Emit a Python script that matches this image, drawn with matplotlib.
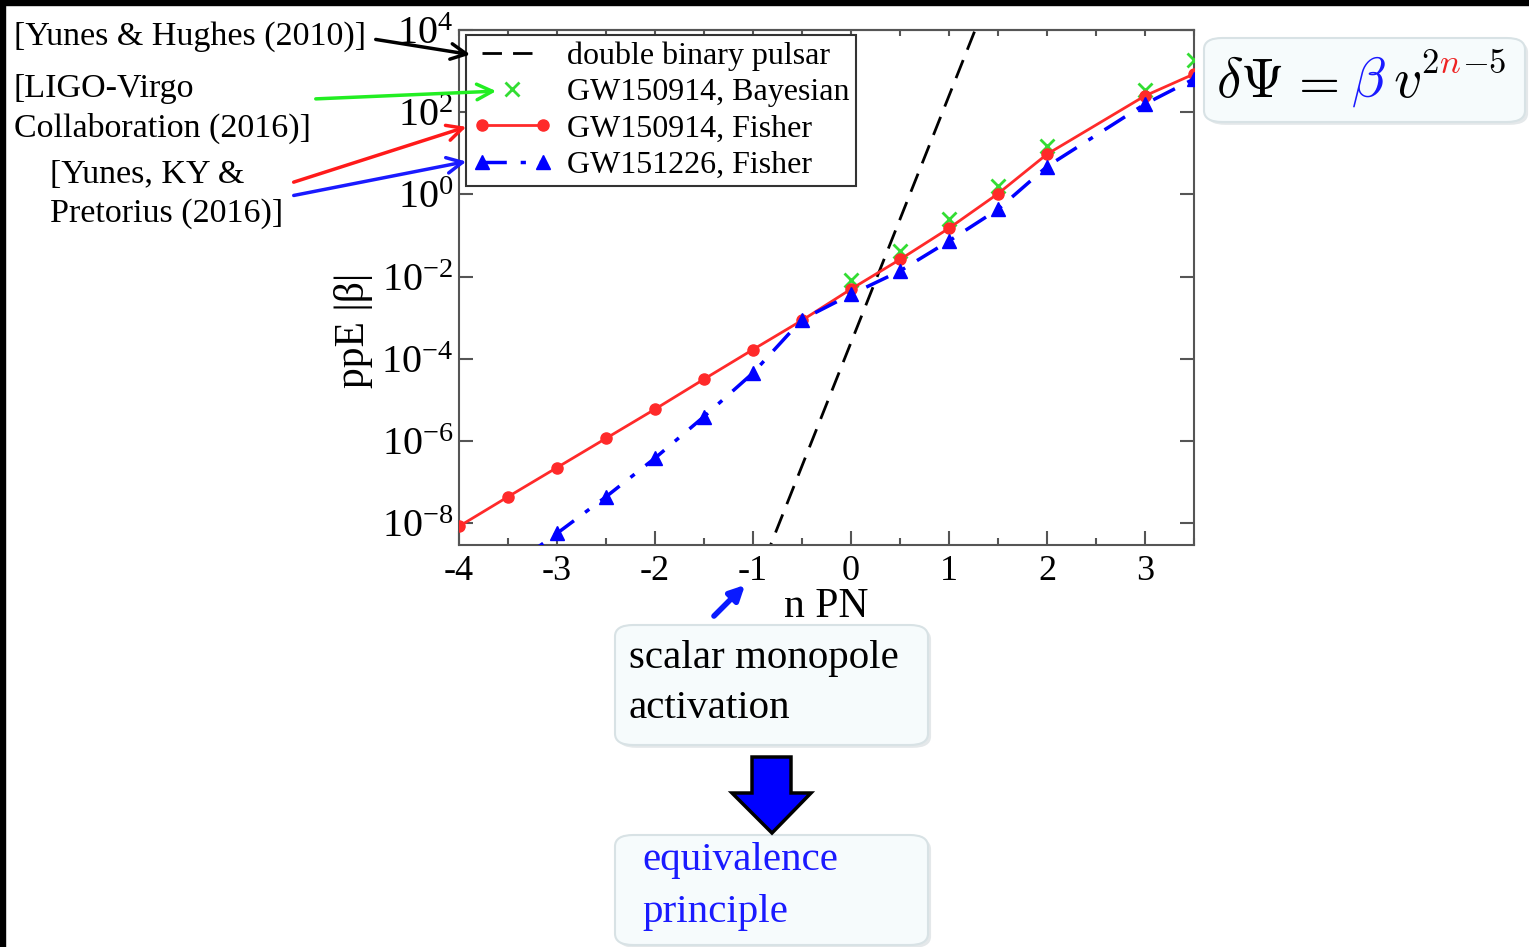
import numpy as np
import matplotlib.pyplot as plt
from matplotlib.patches import FancyBboxPatch, Polygon, Rectangle, FancyArrowPatch
from matplotlib.legend_handler import HandlerLine2D
from matplotlib.ticker import FixedLocator, FuncFormatter, MultipleLocator

plt.rcParams['font.family'] = ['Liberation Serif', 'DejaVu Serif']
plt.rcParams['mathtext.fontset'] = 'stix'
plt.rcParams['axes.unicode_minus'] = False

# values, as log10 |beta|
n_150914_fisher = [-4, -3.5, -3, -2.5, -2, -1.5, -1, -0.5, 0, 0.5, 1, 1.5, 2, 3, 3.5]
logb_150914_fisher = [-8.07, -7.35, -6.64, -5.93, -5.22, -4.49, -3.77, -3.06, -2.30,
                      -1.58, -0.82, 0.02, 0.98, 2.40, 2.93]

n_151226_fisher = [-3.5, -3, -2.5, -2, -1.5, -1, -0.5, 0, 0.5, 1, 1.5, 2, 3, 3.5]
logb_151226_fisher = [-9.1, -8.24, -7.35, -6.41, -5.40, -4.34, -3.04, -2.43,
                      -1.86, -1.13, -0.36, 0.68, 2.20, 2.81]

n_150914_bayes = [0, 0.5, 1, 1.5, 2, 3, 3.5]
logb_150914_bayes = [-2.09, -1.38, -0.60, 0.21, 1.19, 2.53, 3.26]

n_pulsar = [-1.0, 1.5]
logb_pulsar = [-9.6, 5.4]

xticks = [-4, -3, -2, -1, 0, 1, 2, 3]
yticks_exp = [-8, -6, -4, -2, 0, 2, 4]

W, H = 1529, 947
fig = plt.figure(figsize=(W / 100, H / 100), dpi=100)


def fp(x, y):
    # slide pixel (top-left origin) -> figure fraction
    return x / W, 1 - y / H


ax = fig.add_axes([459 / W, 1 - 545 / H, (1194 - 459) / W, (545 - 30) / H])

ax.semilogy(n_pulsar, 10 ** np.array(logb_pulsar), color='black', ls='--',
            dashes=(7, 4), lw=2, label='double binary pulsar', zorder=2)
green, = ax.semilogy(n_150914_bayes, 10 ** np.array(logb_150914_bayes), ls='none',
                     marker='x', ms=10, mew=2, color='#33dd33',
                     label='GW150914, Bayesian', zorder=3)
ax.semilogy(n_150914_fisher, 10 ** np.array(logb_150914_fisher), color='#ff2a2a',
            lw=2, marker='o', ms=8, label='GW150914, Fisher', zorder=4)
ax.semilogy(n_151226_fisher, 10 ** np.array(logb_151226_fisher), color='#0000ff',
            lw=2.5, dashes=(7, 4, 1.5, 4), marker='^', ms=10,
            label='GW151226, Fisher', zorder=5)

ax.set_xlim(-4, 3.5)
ax.set_ylim(3e-9, 1e4)

ax.xaxis.set_major_locator(FixedLocator(xticks))
ax.xaxis.set_minor_locator(MultipleLocator(0.5))
ax.xaxis.set_major_formatter(FuncFormatter(lambda v, p: '%d' % v))
ax.yaxis.set_major_locator(FixedLocator([10.0 ** e for e in yticks_exp]))
ax.yaxis.set_minor_locator(FixedLocator([]))
ax.yaxis.set_major_formatter(FuncFormatter(
    lambda v, p: r'$\mathregular{10^{%d}}$' % round(np.log10(v))))

ax.tick_params(axis='x', which='major', direction='in', length=10, width=1.5,
               color='#555555', labelsize=26, pad=7, top=False)
ax.tick_params(axis='x', which='minor', direction='in', length=5, width=1.5,
               color='#555555', top=False)
ax.tick_params(axis='y', which='major', direction='in', length=10, width=1.5,
               color='#555555', labelsize=29, pad=4, right=True)
sec = ax.secondary_xaxis('top')
sec.set_xticks(np.arange(-4, 3.6, 0.5))
sec.tick_params(direction='in', length=4, width=1.5, color='#555555', labeltop=False)
sec.spines['top'].set_color('#555555')
sec.spines['top'].set_linewidth(1.5)
for s in ax.spines.values():
    s.set_color('#555555')
    s.set_linewidth(1.5)

ax.set_xlabel('n PN', fontsize=30, labelpad=0)
ax.set_ylabel('ppE |β|', fontsize=30)
ax.yaxis.set_label_coords(-0.117, 0.417)

leg = ax.legend(loc='upper left', bbox_to_anchor=(466 / W, 1 - 35 / H),
                bbox_transform=fig.transFigure, fontsize=23, frameon=True,
                fancybox=False, framealpha=1, edgecolor='#333333',
                borderpad=0.2, labelspacing=0.22, handlelength=2.5,
                handletextpad=0.45, borderaxespad=0, numpoints=2,
                handler_map={green: HandlerLine2D(numpoints=1)})
leg.get_frame().set_linewidth(1.5)

# slide frame
fig.patches.append(Rectangle((0, 1 - 5 / H), 1, 5 / H, transform=fig.transFigure,
                             color='black', zorder=0))
fig.patches.append(Rectangle((0, 0), 5 / W, 1, transform=fig.transFigure,
                             color='black', zorder=0))

# citation labels
fs_cite = 24.5
fig.text(*fp(14, 45), '[Yunes & Hughes (2010)]', fontsize=fs_cite, va='baseline')
fig.text(*fp(14, 97), '[LIGO-Virgo', fontsize=fs_cite, va='baseline')
fig.text(*fp(14, 137), 'Collaboration (2016)]', fontsize=fs_cite, va='baseline')
fig.text(*fp(50, 183), '[Yunes, KY &', fontsize=fs_cite, va='baseline')
fig.text(*fp(50, 222), 'Pretorius (2016)]', fontsize=fs_cite, va='baseline')

arrows = [((373, 39), (473, 55), 'black'),
          ((313, 99), (499, 91), '#22ee22'),
          ((291, 183), (469, 126), '#ff1a1a'),
          ((291, 196), (469, 161), '#1a1aff')]
for (x0, y0), (x1, y1), c in arrows:
    fig.patches.append(FancyArrowPatch(fp(x0, y0), fp(x1, y1), transform=fig.transFigure,
                                       arrowstyle='->', mutation_scale=28, lw=2.5,
                                       color=c, zorder=10))

# small arrow pointing at n = -1
fig.patches.append(FancyArrowPatch(fp(712, 618), fp(747, 583), transform=fig.transFigure,
                                   arrowstyle='-|>', mutation_scale=22, lw=4,
                                   color='#0a1aff', zorder=10))


def rbox(x0, y0, x1, y1):
    (fx0, fy1), (fx1, fy0) = fp(x0, y0), fp(x1, y1)
    fig.patches.append(FancyBboxPatch((fx0 + 0.002, fy0 - 0.003), fx1 - fx0, fy1 - fy0,
                                      boxstyle='round,pad=0,rounding_size=0.012',
                                      transform=fig.transFigure, fc='#e4e8ea',
                                      ec='none', zorder=1))
    fig.patches.append(FancyBboxPatch((fx0, fy0), fx1 - fx0, fy1 - fy0,
                                      boxstyle='round,pad=0,rounding_size=0.012',
                                      transform=fig.transFigure, fc='#f6fbfc',
                                      ec='#d8e2e5', lw=1.5, zorder=1))


rbox(1204, 38, 1525, 122)
rbox(615, 625, 928, 745)
rbox(615, 835, 928, 945)

# formula  dPsi = beta v^(2n-5)
fsf, fss = 40, 25
fig.text(*fp(1216, 97), r'$\delta\Psi$', fontsize=fsf, va='baseline', math_fontfamily='cm')
fig.text(*fp(1289, 97), r'$=$', fontsize=38, va='baseline', math_fontfamily='cm')
fig.text(*fp(1351, 97), r'$\beta$', fontsize=fsf, va='baseline', color='#1a1aff',
         math_fontfamily='cm')
fig.text(*fp(1393, 97), r'$v$', fontsize=fsf, va='baseline', math_fontfamily='cm')
fig.text(*fp(1421, 73), r'$2$', fontsize=fss, va='baseline', math_fontfamily='cm')
fig.text(*fp(1439, 73), r'$n$', fontsize=fss, va='baseline', color='#ee2222',
         math_fontfamily='cm')
fig.text(*fp(1462, 73), r'$-5$', fontsize=fss, va='baseline', math_fontfamily='cm')

fs_box = 29.5
fig.text(*fp(629, 668), 'scalar monopole', fontsize=fs_box, va='baseline')
fig.text(*fp(629, 718), 'activation', fontsize=fs_box, va='baseline')
fig.text(*fp(642, 870), 'equivalence', fontsize=fs_box, va='baseline', color='#1a1aff')
fig.text(*fp(642, 922), 'principle', fontsize=fs_box, va='baseline', color='#1a1aff')

# block arrow between the boxes
arrow_px = [(752, 757), (791, 757), (791, 793), (811, 793), (772, 833),
            (732, 793), (752, 793)]
fig.patches.append(Polygon([fp(x, y) for x, y in arrow_px], closed=True,
                           transform=fig.transFigure, fc='#0000ff', ec='black',
                           lw=2.5, zorder=5))

fig.savefig('out.png', dpi=100, facecolor='white')
